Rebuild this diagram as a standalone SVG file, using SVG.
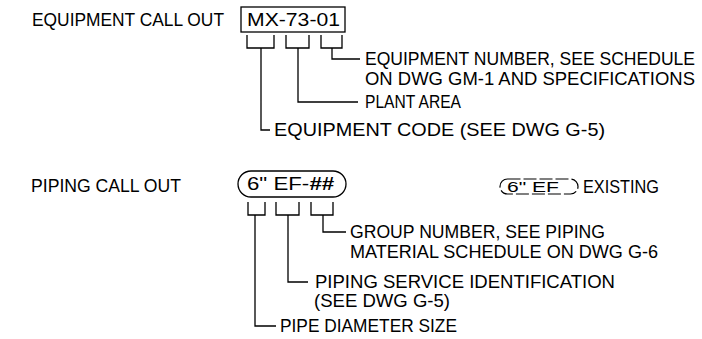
<svg xmlns="http://www.w3.org/2000/svg" width="702" height="339" viewBox="0 0 702 339">
<style>
text{font-family:"Liberation Sans",Arial,sans-serif;font-size:17.5px;fill:#000}
.sm{font-size:14px}
.ln{fill:none;stroke:#000;stroke-width:1.3}
.dash{fill:none;stroke:#000;stroke-width:1.2;stroke-dasharray:13 3}
</style>
<rect width="702" height="339" fill="#fff"/>
<g id="equipment-callout">
<text x="32" y="26" textLength="192" lengthAdjust="spacingAndGlyphs">EQUIPMENT CALL OUT</text>
<rect class="ln" x="241" y="7" width="104" height="25"/>
<text x="247" y="26" textLength="93" lengthAdjust="spacingAndGlyphs">MX-73-01</text>
</g>
<g id="equipment-number">
<text x="365" y="65" textLength="330" lengthAdjust="spacingAndGlyphs">EQUIPMENT NUMBER, SEE SCHEDULE</text>
<text x="365" y="85" textLength="330" lengthAdjust="spacingAndGlyphs">ON DWG GM-1 AND SPECIFICATIONS</text>
</g>
<g id="plant-area">
<text x="365" y="108" textLength="96" lengthAdjust="spacingAndGlyphs">PLANT AREA</text>
</g>
<g id="equipment-code">
<text x="274" y="136" textLength="331" lengthAdjust="spacingAndGlyphs">EQUIPMENT CODE (SEE  DWG G-5)</text>
</g>
<g id="piping-callout">
<text x="31" y="192" textLength="150" lengthAdjust="spacingAndGlyphs">PIPING CALL OUT</text>
<rect class="ln" x="238" y="171" width="108" height="26" rx="13" ry="13"/>
<text x="247" y="190" textLength="87" lengthAdjust="spacingAndGlyphs">6" EF-<tspan font-style="italic" font-weight="bold">##</tspan></text>
</g>
<g id="existing">
<rect class="dash" x="500" y="179" width="78" height="15" rx="7.5" ry="7.5"/>
<text class="sm" x="507" y="192" textLength="52" lengthAdjust="spacingAndGlyphs">6" EF</text>
<text x="583" y="193" textLength="76" lengthAdjust="spacingAndGlyphs">EXISTING</text>
</g>
<g id="group-number">
<text x="350" y="238" textLength="255" lengthAdjust="spacingAndGlyphs">GROUP NUMBER, SEE PIPING</text>
<text x="350" y="258" textLength="308" lengthAdjust="spacingAndGlyphs">MATERIAL SCHEDULE ON DWG G-6</text>
</g>
<g id="piping-service">
<text x="315" y="288" textLength="300" lengthAdjust="spacingAndGlyphs">PIPING SERVICE IDENTIFICATION</text>
<text x="314" y="307" textLength="136" lengthAdjust="spacingAndGlyphs">(SEE DWG G-5)</text>
</g>
<g id="pipe-diameter">
<text x="280" y="332" textLength="177" lengthAdjust="spacingAndGlyphs">PIPE DIAMETER SIZE</text>
</g>
<g id="connectors">
<path class="ln" d="M247 35V48H274V35M286 35V48H309V35M321 35V48H342V35"/>
<path class="ln" d="M332 48V59H360M298 48V102H358M261 48V130H270"/>
<path class="ln" d="M248 202V215H265V202M276 202V215H299V202M311 202V215H333V202"/>
<path class="ln" d="M323 215V232H346M288 215V282H308M255 215V326H276"/>
</g>
</svg>
